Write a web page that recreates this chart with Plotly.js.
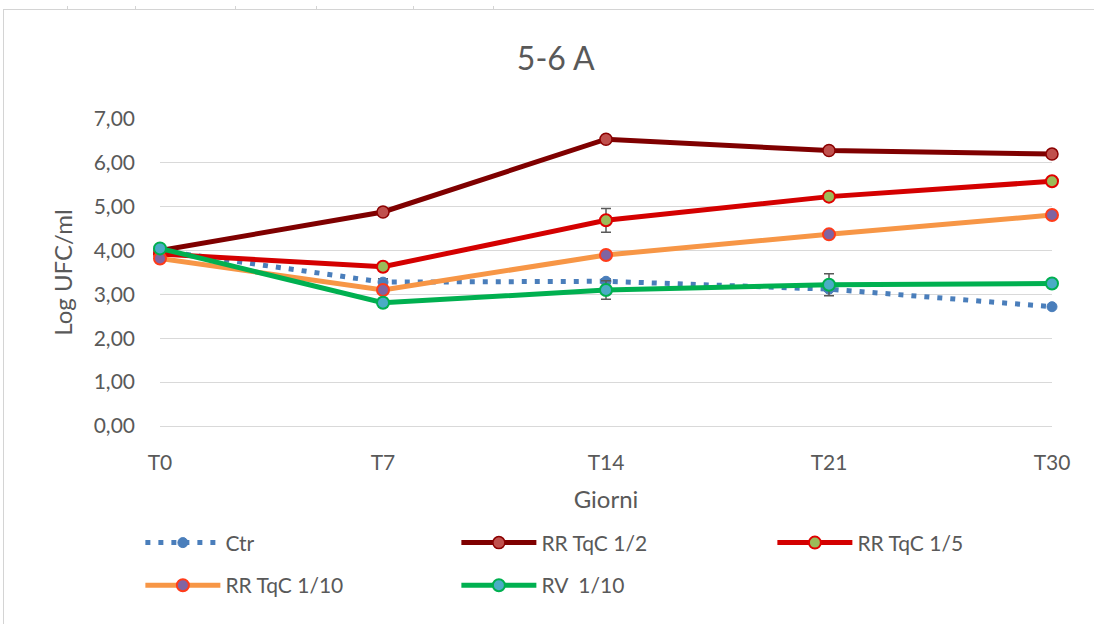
<!DOCTYPE html>
<html>
<head>
<meta charset="utf-8">
<script src="https://cdn.plot.ly/plotly-3.0.1.min.js"></script>
<style>
html,body{margin:0;padding:0;background:#fff;}
#wrap{position:relative;width:1094px;height:624px;overflow:hidden;}
#chart{position:absolute;left:0;top:0;width:1094px;height:624px;}
.deco{position:absolute;background:#d4d4d4;pointer-events:none;}
</style>
</head>
<body>
<div id="wrap">
<div id="chart"></div>
<div class="deco" style="left:3px;top:9px;width:1091px;height:1px;"></div>
<div class="deco" style="left:3px;top:9px;width:1px;height:615px;"></div>
<div class="deco" style="left:67px;top:6px;width:1px;height:3px;"></div>
<div class="deco" style="left:135px;top:6px;width:1px;height:3px;"></div>
<div class="deco" style="left:235px;top:6px;width:1px;height:3px;"></div>
<div class="deco" style="left:316px;top:6px;width:1px;height:3px;"></div>
<div class="deco" style="left:413px;top:6px;width:1px;height:3px;"></div>
<div class="deco" style="left:493px;top:6px;width:1px;height:3px;"></div>
</div>
<script>
const categories = ["T0", "T7", "T14", "T21", "T30"];

const ctr      = [4.00, 3.28, 3.30, 3.12, 2.72];
const ctrErr   = [0, 0.08, 0.05, 0.05, 0];
const rr12     = [4.00, 4.88, 6.54, 6.28, 6.20];
const rr12Err  = [0, 0, 0, 0, 0];
const rr15     = [3.92, 3.63, 4.69, 5.23, 5.58];
const rr15Err  = [0, 0, 0.27, 0, 0];
const rr110    = [3.82, 3.10, 3.90, 4.37, 4.81];
const rr110Err = [0, 0, 0, 0, 0];
const rv110    = [4.05, 2.81, 3.10, 3.22, 3.25];
const rv110Err = [0, 0.10, 0.21, 0.25, 0];

const seriesNames = ["Ctr", "RR TqC 1/2", "RR TqC 1/5", "RR TqC 1/10", "RV  1/10"];

const errStyle = (arr) => ({type: 'data', array: arr, visible: true, color: '#595959', thickness: 1.5, width: 5});

const traces = [
  {x: categories, y: ctr, name: seriesNames[0], mode: 'lines+markers', cliponaxis: false,
   line: {color: '#4a7ebb', width: 5, dash: '5px,8px'},
   marker: {size: 10, color: '#4a7ebb', line: {color: '#4a7ebb', width: 1}},
   error_y: errStyle(ctrErr), legend: 'legend'},
  {x: categories, y: rr12, name: seriesNames[1], mode: 'lines+markers', cliponaxis: false,
   line: {color: '#7f0000', width: 5},
   marker: {size: 12, color: '#c0504d', line: {color: '#8b0000', width: 1.5}},
   error_y: errStyle(rr12Err), legend: 'legend'},
  {x: categories, y: rr15, name: seriesNames[2], mode: 'lines+markers', cliponaxis: false,
   line: {color: '#d40000', width: 5},
   marker: {size: 12, color: '#9bbb59', line: {color: '#e00000', width: 2}},
   error_y: errStyle(rr15Err), legend: 'legend'},
  {x: categories, y: rr110, name: seriesNames[3], mode: 'lines+markers', cliponaxis: false,
   line: {color: '#f79646', width: 5},
   marker: {size: 12, color: '#8064a2', line: {color: '#ff3b1a', width: 2}},
   error_y: errStyle(rr110Err), legend: 'legend2'},
  {x: categories, y: rv110, name: seriesNames[4], mode: 'lines+markers', cliponaxis: false,
   line: {color: '#00b050', width: 5},
   marker: {size: 12, color: '#4bacc6', line: {color: '#00b050', width: 2}},
   error_y: errStyle(rv110Err), legend: 'legend2'}
];

const fontFam = 'Lato, "Open Sans", sans-serif';
const legendBase = {
  orientation: 'h', xanchor: 'left', yanchor: 'middle', x: -0.022,
  entrywidth: 226, entrywidthmode: 'pixels', itemwidth: 75,
  font: {family: fontFam, size: 21, color: '#595959'},
  bgcolor: 'rgba(0,0,0,0)', borderwidth: 0, tracegroupgap: 0
};

const layout = {
  width: 1094, height: 624,
  margin: {l: 160, r: 42, t: 119, b: 198},
  paper_bgcolor: '#ffffff', plot_bgcolor: '#ffffff',
  separators: ',.',
  font: {family: fontFam, color: '#595959'},
  title: {text: '5-6 A', x: 0.508, xref: 'container', xanchor: 'center', y: 0.905, yref: 'container', yanchor: 'middle',
          font: {family: fontFam, size: 32, color: '#595959'}},
  xaxis: {type: 'category', range: [0, 4], showgrid: false, zeroline: false,
          showline: false, ticks: '', ticklabelstandoff: 22,
          tickfont: {family: fontFam, size: 21, color: '#595959'},
          title: {text: 'Giorni', standoff: 18, font: {family: fontFam, size: 24, color: '#595959'}}},
  yaxis: {range: [0, 7], dtick: 1, tickformat: '.2f', showgrid: true, gridcolor: '#d9d9d9', gridwidth: 1,
          zeroline: true, zerolinecolor: '#d9d9d9', zerolinewidth: 1, showline: false, ticks: '',
          ticklabelstandoff: 24,
          tickfont: {family: fontFam, size: 21, color: '#595959'},
          title: {text: 'Log UFC/ml', standoff: 14, font: {family: fontFam, size: 24, color: '#595959'}}},
  legend: Object.assign({}, legendBase, {y: -0.381}),
  legend2: Object.assign({}, legendBase, {y: -0.52}),
  showlegend: true
};

Plotly.newPlot('chart', traces, layout, {displayModeBar: false, staticPlot: true});
</script>
</body>
</html>
